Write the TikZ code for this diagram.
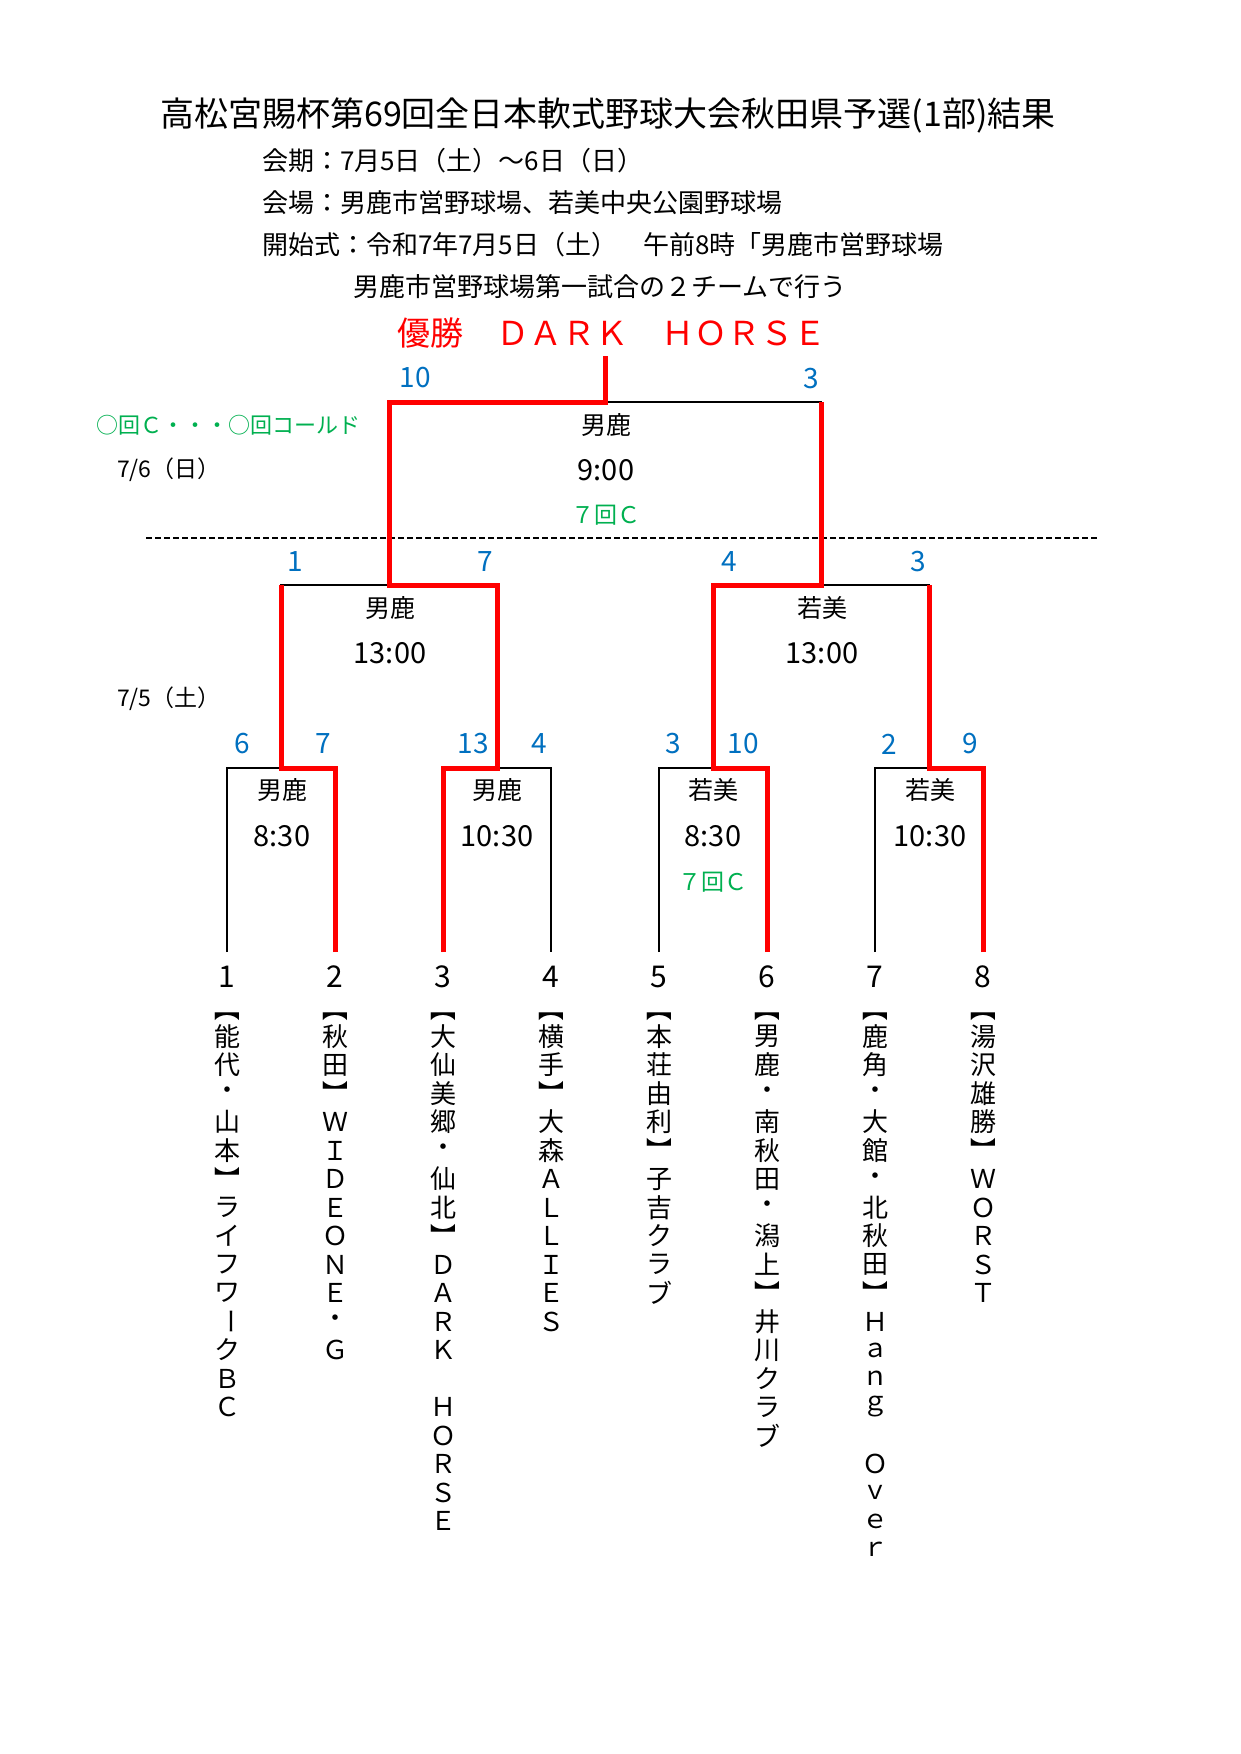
\documentclass[tikz,border=0pt]{standalone}
\usepackage{fontspec}
\setmainfont{Noto Sans CJK JP}
\definecolor{sblue}{HTML}{0070C0}
\definecolor{sgreen}{HTML}{00B050}
\definecolor{sred}{HTML}{FF0000}
\newcommand\fsz[1]{\fontsize{#1}{#1}\selectfont}
\newcommand\vLB{\rotatebox[origin=c]{-90}{【}}
\newcommand\vRB{\rotatebox[origin=c]{-90}{】}}
\newcommand\vCho{\rotatebox[origin=c]{-90}{ー}}
\begin{document}
\begin{tikzpicture}[x=1pt,y=-1pt,
  every node/.style={inner sep=0pt,outer sep=0pt},
  score/.style={font=\fsz{28},text=sblue},
  venue/.style={font=\fsz{25}},
  tm/.style={font=\fsz{29}},
  cold/.style={font=\fsz{23},text=sgreen},
  info/.style={font=\fsz{26},anchor=west},
  num/.style={font=\fsz{30}},
  vch/.style={font=\fsz{26}},
  blk/.style={line width=1.8pt,black,line join=miter},
  win/.style={line width=5pt,sred,line join=miter},
]
\useasboundingbox[fill=white] (0,0) rectangle (1241,1754);

% header
\node[font=\fsz{34}] (title) at (608,115) {高松宮賜杯第69回全日本軟式野球大会秋田県予選(1部)結果};
\node[info] (l1) at (262,161) {会期：7月5日（土）～6日（日）};
\node[info] (l2) at (262,203) {会場：男鹿市営野球場、若美中央公園野球場};
\node[info] (l3) at (262,245) {開始式：令和7年7月5日（土）　午前8時「男鹿市営野球場};
\node[info] (l4) at (353,287) {男鹿市営野球場第一試合の２チームで行う};
\node[anchor=west,font=\fsz{33},text=sred] (champ) at (397,333) {優勝　ＤＡＲＫ　ＨＯＲＳＥ};
\node[anchor=west,font=\fsz{22},text=sgreen] (legend) at (96,425) {○回Ｃ・・・○回コールド};
\node[anchor=west,font=\fsz{23}] (d2) at (117,470) {7/6（日）};
\node[anchor=west,font=\fsz{23}] (d1) at (117,699) {7/5（土）};

% coordinates
\coordinate (b1) at (227,952); \coordinate (b2) at (335,952);
\coordinate (b3) at (443,952); \coordinate (b4) at (551,952);
\coordinate (b5) at (659,952); \coordinate (b6) at (767,952);
\coordinate (b7) at (875,952); \coordinate (b8) at (983,952);
\coordinate (m1) at (281,768); \coordinate (m2) at (497,768);
\coordinate (m3) at (713,768); \coordinate (m4) at (929,768);
\coordinate (s1) at (389,585); \coordinate (s2) at (821,585);
\coordinate (f) at (605,402); \coordinate (ch) at (605,356);
\coordinate (dl) at (146,538); \coordinate (dr) at (1098,538);

% dashed day separator
\draw[line width=1.8pt,dash pattern=on 6pt off 3pt] (dl) -- (dr);

% black skeleton
\draw[blk] (b1) |- (m1) -| (b2);
\draw[blk] (b3) |- (m2) -| (b4);
\draw[blk] (b5) |- (m3) -| (b6);
\draw[blk] (b7) |- (m4) -| (b8);
\draw[blk] (m1) |- (s1) -| (m2);
\draw[blk] (m3) |- (s2) -| (m4);
\draw[blk] (s1) |- (f) -| (s2);

% winner paths
\draw[win] (b2) |- (m1) -- (m1 |- s1);
\draw[win] (b3) |- (m2) |- (s1) |- (f) -- (ch);
\draw[win] (b6) |- (m3) |- (s2) -- (s2 |- f);
\draw[win] (b8) |- (m4) -- (m4 |- s2);

% final
\node[score] (fs1) at (415,378) {10};
\node[score] (fs2) at (811,379) {3};
\node[venue] (fv) at (606,425) {男鹿};
\node[tm] (ft) at (606,470) {9:00};
\node[cold] (fc) at (606,515) {７回Ｃ};

% semis
\node[score] (ss1) at (295,562) {1};
\node[score] (ss2) at (485,562) {7};
\node[score] (ss3) at (729,562) {4};
\node[score] (ss4) at (918,562) {3};
\node[venue] (sv1) at (390,608) {男鹿};
\node[tm] (st1) at (390,653) {13:00};
\node[venue] (sv2) at (822,608) {若美};
\node[tm] (st2) at (822,653) {13:00};

% first round
\node[score] (r1) at (242,744) {6};
\node[score] (r2) at (323,744) {7};
\node[score] (r3) at (473,744) {13};
\node[score] (r4) at (539,744) {4};
\node[score] (r5) at (673,744) {3};
\node[score] (r6) at (743,744) {10};
\node[score] (r7) at (889,744) {2};
\node[score] (r8) at (970,744) {9};
\node[venue] (v1) at (282,790) {男鹿};
\node[tm] (t1) at (282,836) {8:30};
\node[venue] (v2) at (497,790) {男鹿};
\node[tm] (t2) at (497,836) {10:30};
\node[venue] (v3) at (713,790) {若美};
\node[tm] (t3) at (713,836) {8:30};
\node[cold] (c3) at (713,882) {７回Ｃ};
\node[venue] (v4) at (930,790) {若美};
\node[tm] (t4) at (930,836) {10:30};

% team numbers
\foreach \i/\xx in {1/227,2/335,3/443,4/551,5/659,6/767,7/875,8/983}
  \node[num] (n\i) at (\xx,977) {\i};

% team names (vertical)
\foreach \c [count=\k from 0] in {\vLB,能,代,・,山,本,\vRB,ラ,イ,フ,ワ,\vCho,ク,Ｂ,Ｃ}
  \node[vch] (a1-\k) at (227,1008+28.5*\k) {\c};
\foreach \c [count=\k from 0] in {\vLB,秋,田,\vRB,Ｗ,Ｉ,Ｄ,Ｅ,Ｏ,Ｎ,Ｅ,・,Ｇ}
  \node[vch] (a2-\k) at (335,1008+28.5*\k) {\c};
\foreach \c [count=\k from 0] in {\vLB,大,仙,美,郷,・,仙,北,\vRB,Ｄ,Ａ,Ｒ,Ｋ,　,Ｈ,Ｏ,Ｒ,Ｓ,Ｅ}
  \node[vch] (a3-\k) at (443,1008+28.5*\k) {\c};
\foreach \c [count=\k from 0] in {\vLB,横,手,\vRB,大,森,Ａ,Ｌ,Ｌ,Ｉ,Ｅ,Ｓ}
  \node[vch] (a4-\k) at (551,1008+28.5*\k) {\c};
\foreach \c [count=\k from 0] in {\vLB,本,荘,由,利,\vRB,子,吉,ク,ラ,ブ}
  \node[vch] (a5-\k) at (659,1008+28.5*\k) {\c};
\foreach \c [count=\k from 0] in {\vLB,男,鹿,・,南,秋,田,・,潟,上,\vRB,井,川,ク,ラ,ブ}
  \node[vch] (a6-\k) at (767,1008+28.5*\k) {\c};
\foreach \c [count=\k from 0] in {\vLB,鹿,角,・,大,館,・,北,秋,田,\vRB,Ｈ,ａ,ｎ,ｇ,　,Ｏ,ｖ,ｅ,ｒ}
  \node[vch] (a7-\k) at (875,1008+28.5*\k) {\c};
\foreach \c [count=\k from 0] in {\vLB,湯,沢,雄,勝,\vRB,Ｗ,Ｏ,Ｒ,Ｓ,Ｔ}
  \node[vch] (a8-\k) at (983,1008+28.5*\k) {\c};
\end{tikzpicture}
\end{document}
